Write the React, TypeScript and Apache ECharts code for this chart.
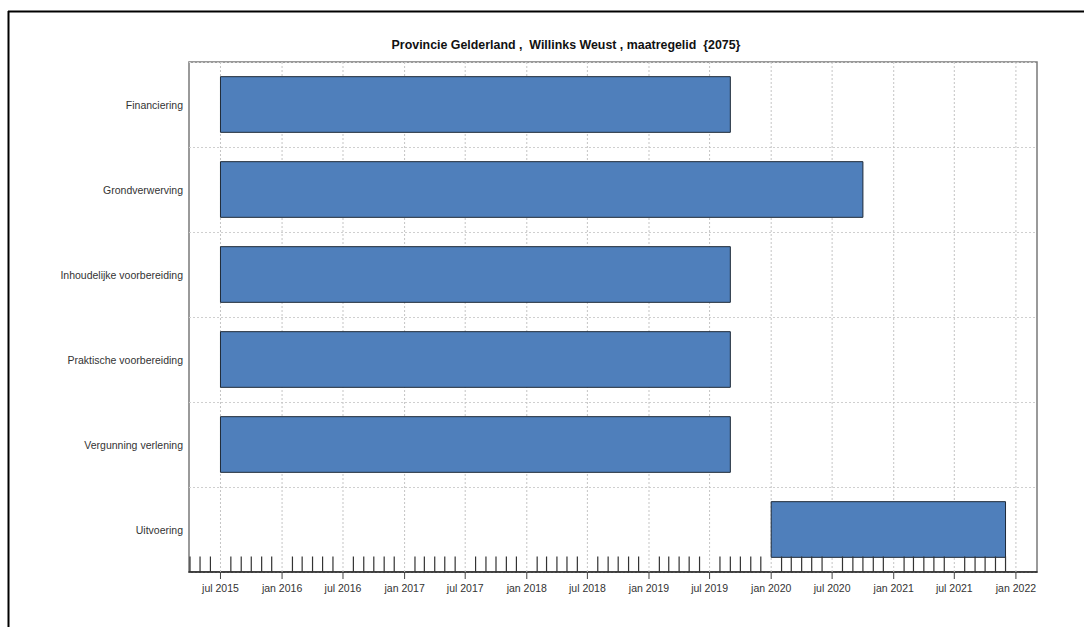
import React, { useEffect, useRef } from "react";
import * as echarts from "echarts";

const categories = [
  "Financiering",
  "Grondverwerving",
  "Inhoudelijke voorbereiding",
  "Praktische voorbereiding",
  "Vergunning verlening",
  "Uitvoering",
];
const startDates = ["2015-07-01", "2015-07-01", "2015-07-01", "2015-07-01", "2015-07-01", "2020-01-01"];
const endDates = ["2019-09-01", "2020-10-01", "2019-09-01", "2019-09-01", "2019-09-01", "2021-12-01"];

const majorTickDates = [
  "2015-07-01", "2016-01-01", "2016-07-01", "2017-01-01", "2017-07-01", "2018-01-01", "2018-07-01",
  "2019-01-01", "2019-07-01", "2020-01-01", "2020-07-01", "2021-01-01", "2021-07-01", "2022-01-01",
];
const majorTickLabels = [
  "jul 2015", "jan 2016", "jul 2016", "jan 2017", "jul 2017", "jan 2018", "jul 2018",
  "jan 2019", "jul 2019", "jan 2020", "jul 2020", "jan 2021", "jul 2021", "jan 2022",
];
const minorTickFirst = "2015-04-01";
const minorTickLast = "2021-12-01";
const axisMin = "2015-03-29";
const axisMax = "2022-03-05";

const titleText = "Provincie Gelderland ,  Willinks Weust , maatregelid  {2075}";

const ts = (s: string) => Date.parse(s + "T00:00:00Z");

function monthTicks(): number[] {
  const out: number[] = [];
  const a = new Date(ts(minorTickFirst));
  const end = ts(minorTickLast);
  let y = a.getUTCFullYear();
  let m = a.getUTCMonth();
  while (Date.UTC(y, m, 1) <= end) {
    if (m !== 0 && m !== 6) out.push(Date.UTC(y, m, 1));
    m++;
    if (m > 11) { m = 0; y++; }
  }
  return out;
}

const FONT = "Arial, 'Liberation Sans', sans-serif";

export default function App() {
  const ref = useRef<HTMLDivElement>(null);
  useEffect(() => {
    if (!ref.current) return;
    const chart = echarts.init(ref.current, null, { renderer: "svg" });
    const barData = categories.map((c, i) => [ts(startDates[i]), ts(endDates[i]), i]);
    const majorData = majorTickDates.map((d, i) => [ts(d), i]);
    const minorData = monthTicks().map((t) => [t, 0]);

    chart.setOption({
      animation: false,
      backgroundColor: "#ffffff",
      graphic: [
        { type: "line", shape: { x1: 8, y1: 11.5, x2: 1084, y2: 11.5 }, style: { stroke: "#000", lineWidth: 2 } },
        { type: "line", shape: { x1: 8.5, y1: 11, x2: 8.5, y2: 627 }, style: { stroke: "#000", lineWidth: 2 } },
        {
          type: "text",
          x: 566,
          y: 45,
          style: {
            text: titleText,
            font: "bold 12.4px " + FONT,
            fill: "#111",
            textAlign: "center",
            textVerticalAlign: "middle",
          },
        },
      ],
      grid: {
        left: 189,
        top: 62,
        width: 848,
        height: 510,
        show: true,
        borderColor: "#7a7a7a",
        borderWidth: 1.5,
        backgroundColor: "transparent",
      },
      xAxis: {
        type: "value",
        min: ts(axisMin),
        max: ts(axisMax),
        axisLine: { show: true, onZero: false, lineStyle: { color: "#222", width: 1.5 } },
        axisTick: { show: false },
        axisLabel: { show: false },
        splitLine: { show: false },
      },
      yAxis: {
        type: "category",
        data: categories,
        inverse: true,
        axisLine: { show: false },
        axisTick: { show: false },
        axisLabel: { color: "#333", fontSize: 10.5, fontFamily: FONT, margin: 6 },
        splitLine: { show: true, lineStyle: { color: "#cfcfcf", type: [2, 2], width: 1 } },
      },
      series: [
        {
          type: "custom",
          name: "grid",
          clip: false,
          silent: true,
          data: majorData,
          encode: { x: 0 },
          renderItem: (params: any, api: any) => {
            const x = api.coord([api.value(0), 0])[0];
            const cs = params.coordSys;
            const bottom = cs.y + cs.height;
            return {
              type: "group",
              children: [
                {
                  type: "line",
                  shape: { x1: x, y1: cs.y, x2: x, y2: bottom },
                  style: { stroke: "#c4c4c4", lineWidth: 1, lineDash: [2, 2] },
                },
                {
                  type: "line",
                  shape: { x1: x, y1: bottom, x2: x, y2: bottom + 7 },
                  style: { stroke: "#444", lineWidth: 1 },
                },
                {
                  type: "text",
                  x: x,
                  y: bottom + 16,
                  style: {
                    text: majorTickLabels[params.dataIndex],
                    font: "10.5px " + FONT,
                    fill: "#333",
                    textAlign: "center",
                    textVerticalAlign: "middle",
                  },
                },
              ],
            };
          },
        },
        {
          type: "custom",
          name: "bars",
          silent: true,
          data: barData,
          encode: { x: [0, 1], y: 2 },
          renderItem: (params: any, api: any) => {
            const s = api.coord([api.value(0), api.value(2)]);
            const e = api.coord([api.value(1), api.value(2)]);
            const h = api.size([0, 1])[1] * 0.655;
            return {
              type: "rect",
              shape: { x: s[0], y: s[1] - h / 2, width: e[0] - s[0], height: h },
              style: { fill: "#4f7fbb", stroke: "#1e2a38", lineWidth: 1 },
            };
          },
        },
        {
          type: "custom",
          name: "months",
          silent: true,
          clip: false,
          data: minorData,
          encode: { x: 0 },
          renderItem: (params: any, api: any) => {
            const x = api.coord([api.value(0), 0])[0];
            const cs = params.coordSys;
            const bottom = cs.y + cs.height;
            return {
              type: "line",
              shape: { x1: x, y1: bottom - 15.5, x2: x, y2: bottom },
              style: { stroke: "#333", lineWidth: 1.2 },
            };
          },
        },
      ],
    });
    return () => chart.dispose();
  }, []);
  return (
    <div
      ref={ref}
      style={{ position: "absolute", left: 0, top: 0, width: 1084, height: 627, background: "#fff" }}
    />
  );
}
